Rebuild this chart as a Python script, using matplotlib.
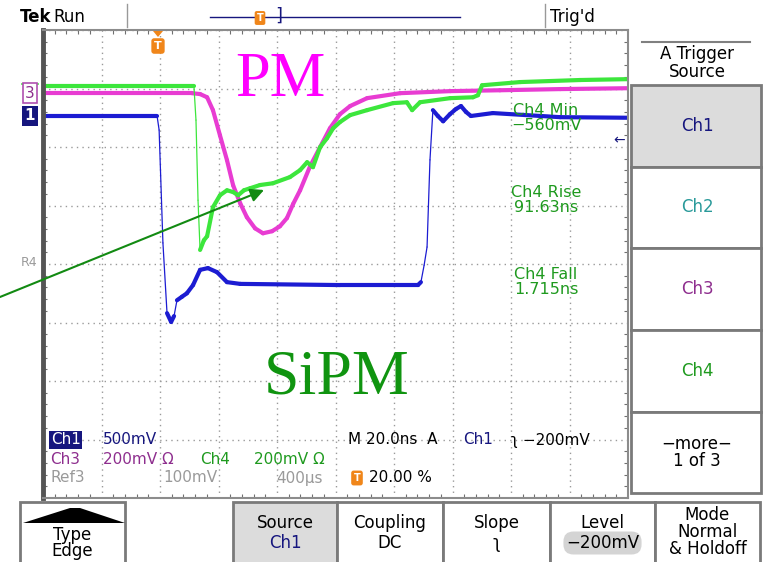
import numpy as np
import matplotlib.pyplot as plt
from matplotlib.collections import LineCollection
from matplotlib.patches import Rectangle, Polygon

W, H = 767, 562

# time base: 20 ns/div, trigger at 20 % -> screen spans -40 .. 160 ns
T_LEFT, T_RIGHT = -40, 160
NS_PER_DIV = 20

# Ch1 (blue), 500 mV/div
CH1_SCALE, CH1_POS = 500, 2.53
ch1_t = [-40, -1.0, -0.3, 1.0, 2.4, 3.8, 4.8, 5.8, 7.5, 9.2, 11.3, 13.7, 16.4,
         19.5, 22.9, 27.4, 61.5, 88.2, 89.2, 90.3, 91.3, 92.3, 93.3, 95.0, 96.8,
         99.1, 101.2, 102.9, 104.6, 106.3, 113.8, 136.8, 160]
ch1_mv = [0, 0, -120, -1085, -1685, -1760, -1710, -1575, -1545, -1515, -1445,
          -1315, -1300, -1335, -1420, -1435, -1445, -1445, -1420, -1275, -1120,
          -375, 50, 0, -45, 15, 60, 85, 35, 0, 25, -10, -15]

# Ch3 (magenta, PM), 200 mV/div
CH3_SCALE, CH3_POS = 200, 2.92
ch3_t = [-40, 10.9, 13.7, 16.1, 18.1, 20.5, 22.9, 25.0, 27.4, 29.7, 32.5, 35.2,
         38.3, 41.0, 43.4, 45.5, 47.9, 51.3, 54.7, 58.1, 61.5, 65.0, 70.8, 82.1,
         99.2, 116.2, 136.8, 160]
ch3_mv = [0, 0, -3, -14, -58, -144, -229, -315, -376, -424, -462, -479, -472,
          -455, -427, -379, -332, -250, -185, -120, -72, -44, -17, 0, 7, 10, 14, 17]

# Ch4 (green, SiPM), 200 mV/div
CH4_SCALE, CH4_POS = 200, 3.04
ch4_t = [-40, 11.6, 12.3, 13.0, 13.7, 15.0, 16.1, 18.1, 20.5, 22.9, 25.0, 26.7,
         28.7, 30.8, 34.2, 38.6, 44.4, 47.9, 50.3, 52.3, 54.7, 57.1, 59.2, 61.5,
         65.0, 70.8, 79.7, 84.4, 86.2, 88.9, 99.2, 107.0, 108.7, 110.1, 123.1,
         143.6, 160]
ch4_mv = [0, 0, -116, -390, -560, -527, -513, -414, -373, -356, -362, -373, -356,
          -349, -338, -332, -311, -287, -260, -277, -209, -178, -144, -123, -99,
          -82, -58, -55, -82, -55, -41, -38, -31, 3, 14, 21, 24]

BLUE = '#1c1cd2'
MAGENTA = '#e83cd2'
GREEN = '#3ce63c'
DKGREEN = '#1f9a1f'
NAVY = '#16167e'
PURPLE = '#8e2e8e'
ORANGE = '#f0861a'

plt.rcParams['font.family'] = ['DejaVu Sans']

fig = plt.figure(figsize=(W / 100, H / 100), dpi=100)
fig.patch.set_facecolor('white')

# ---- scope screen -------------------------------------------------------
ax = fig.add_axes([43 / W, 1 - 498 / H, 585 / W, 468 / H], zorder=2)
ax.set_xlim(T_LEFT, T_RIGHT)
ax.set_ylim(-4, 4)
ax.set_xticks(np.arange(T_LEFT, T_RIGHT + 1, NS_PER_DIV))
ax.set_yticks(np.arange(-4, 5, 1))
ax.set_xticks(np.arange(T_LEFT, T_RIGHT + 0.1, NS_PER_DIV / 5), minor=True)
ax.set_yticks(np.arange(-4, 4.01, 0.2), minor=True)
ax.tick_params(which='both', direction='in', top=True, right=True,
               labelbottom=False, labelleft=False, color='#707070')
ax.tick_params(which='major', length=0)
ax.tick_params(which='minor', length=3, width=0.8)
ax.grid(which='major', color='#9a9a9a', linestyle=(0, (1, 3)), linewidth=1)
for side in ['top', 'right', 'bottom']:
    ax.spines[side].set_color('#8c8c8c')
    ax.spines[side].set_linewidth(1.5)
ax.spines['left'].set_color('#555555')
ax.spines['left'].set_linewidth(3.5)

px_per_div = 468 / 8


def draw_trace(t, mv, scale, pos, color):
    # fast edges are drawn thin, the noisy slow parts thick, like on the scope
    t = np.asarray(t, float)
    v = np.asarray(mv, float) / scale + pos
    pts = np.column_stack([t, v])
    segs = np.stack([pts[:-1], pts[1:]], axis=1)
    dx = np.abs(np.diff(t)) * px_per_div / NS_PER_DIV
    dy = np.abs(np.diff(v)) * px_per_div
    widths = np.where(dy > 5 * dx, 0.9, 3.0)
    ax.add_collection(LineCollection(segs, colors=color, linewidths=widths,
                                     capstyle='round', joinstyle='round'))


draw_trace(ch1_t, ch1_mv, CH1_SCALE, CH1_POS, BLUE)
draw_trace(ch3_t, ch3_mv, CH3_SCALE, CH3_POS, MAGENTA)
draw_trace(ch4_t, ch4_mv, CH4_SCALE, CH4_POS, GREEN)

# ---- overlay in pixel coordinates for the instrument chrome ---------------
ui = fig.add_axes([0, 0, 1, 1], zorder=3)
ui.set_xlim(0, W)
ui.set_ylim(H, 0)
ui.axis('off')
ui.patch.set_alpha(0)

# header
ui.text(20, 17, 'Tek', fontsize=12, fontweight='bold', va='center', ha='left')
ui.text(53, 17, 'Run', fontsize=12, va='center', ha='left')
ui.plot([127, 127], [4, 27], color='#999999', lw=1)
ui.plot([545, 545], [4, 27], color='#999999', lw=1)
ui.text(550, 17, "Trig'd", fontsize=12, va='center', ha='left')
ui.plot([210, 460], [17, 17], color=NAVY, lw=1)
ui.text(279, 16, ']', fontsize=13, va='center', ha='center', color=NAVY)
ui.text(260, 18, 'T', fontsize=7, fontweight='bold', color='white', ha='center',
        va='center', bbox=dict(boxstyle='round,pad=0.2', fc=ORANGE, ec='none'))

# trigger position marker on screen
ui.add_patch(Polygon([[153, 31], [163, 31], [158, 37]], closed=True, fc=ORANGE, ec='none'))
ui.text(158, 46, 'T', fontsize=8, fontweight='bold', color='white', ha='center',
        va='center', bbox=dict(boxstyle='round,pad=0.25', fc=ORANGE, ec='none'))

# channel ground markers
ui.plot([22, 38], [84, 84], color=GREEN, lw=1.2)
ui.text(30, 93, '3', fontsize=11, color=PURPLE, ha='center', va='center',
        bbox=dict(boxstyle='square,pad=0.15', fc='white', ec='#b050b0', lw=1.2))
ui.text(30, 116, '1', fontsize=11, fontweight='bold', color='white', ha='center',
        va='center', bbox=dict(boxstyle='square,pad=0.18', fc=NAVY, ec='none'))
ui.text(29, 262, 'R4', fontsize=9, color='#9a9a9a', ha='center', va='center')
ui.text(619, 140, '\u2190', fontsize=10, color=NAVY, ha='center', va='center')

# measurements
for y, txt in [(118, 'Ch4 Min\n\u2212560mV'), (200, 'Ch4 Rise\n91.63ns'),
               (282, 'Ch4 Fall\n1.715ns')]:
    ui.text(546, y, txt, fontsize=11.5, color=DKGREEN, ha='center', va='center',
            linespacing=0.95)

# big labels and arrow
ui.text(280, 96, 'PM', fontsize=45, color='#ff00ff', family='Liberation Serif',
        ha='center', va='baseline')
ui.text(337, 393, 'SiPM', fontsize=46, color='#109410', family='Liberation Serif',
        ha='center', va='baseline')
ui.annotate('', xy=(264, 190), xytext=(0, 297),
            arrowprops=dict(arrowstyle='-|>', color='#128a12', lw=1.5,
                            mutation_scale=20, shrinkA=0, shrinkB=0))

# readouts inside the screen
rs = 11
ui.text(51, 440, 'Ch1', fontsize=rs, color='white', va='center',
        bbox=dict(boxstyle='square,pad=0.1', fc=NAVY, ec='none'))
ui.text(103, 440, '500mV', fontsize=rs, color=NAVY, va='center')
ui.text(50, 460, 'Ch3', fontsize=rs, color=PURPLE, va='center')
ui.text(103, 460, '200mV \u03a9', fontsize=rs, color=PURPLE, va='center')
ui.text(200, 460, 'Ch4', fontsize=rs, color=DKGREEN, va='center')
ui.text(254, 460, '200mV \u03a9', fontsize=rs, color=DKGREEN, va='center')
ui.text(50, 478, 'Ref3', fontsize=rs, color='#9a9a9a', va='center')
ui.text(163, 478, '100mV', fontsize=rs, color='#9a9a9a', va='center')
ui.text(276, 478, '400\u00b5s', fontsize=rs, color='#9a9a9a', va='center')
ui.text(348, 440, 'M 20.0ns  A', fontsize=rs, color='black', va='center')
ui.text(463, 440, 'Ch1', fontsize=rs, color=NAVY, va='center')
ui.text(511, 440, '\u0285 \u2212200mV', fontsize=rs, color='black', va='center')
ui.text(357, 478, 'T', fontsize=7, fontweight='bold', color='white', ha='center',
        va='center', bbox=dict(boxstyle='round,pad=0.25', fc=ORANGE, ec='none'))
ui.text(369, 478, '20.00 %', fontsize=rs, color='black', va='center')

# right-hand menu
ui.plot([642, 750], [42, 42], color='#808080', lw=1.5)
ui.text(697, 63, 'A Trigger\nSource', fontsize=12, ha='center', va='center',
        linespacing=0.95)
side_menu = [(85, 'Ch1', NAVY, '#dcdcdc'), (167, 'Ch2', '#2a9a9a', 'white'),
             (248, 'Ch3', PURPLE, 'white'), (330, 'Ch4', DKGREEN, 'white'),
             (412, '\u2212more\u2212\n1 of 3', 'black', 'white')]
for i, (top, label, col, face) in enumerate(side_menu):
    bottom = side_menu[i + 1][0] if i + 1 < len(side_menu) else 493
    ui.add_patch(Rectangle((631, top), 130, bottom - top, fc=face, ec='#7a7a7a', lw=2))
    ui.text(697, (top + bottom) / 2, label, fontsize=12, color=col, ha='center',
            va='center', linespacing=0.95)

# bottom menu
bottom_menu = [(20, 125, 'Type\nEdge', 'white'), (233, 337, 'Source\nCh1', '#dcdcdc'),
               (337, 443, 'Coupling\nDC', 'white'), (443, 550, 'Slope\n\u0285', 'white'),
               (550, 655, 'Level\n\u2212200mV', 'white'),
               (655, 760, 'Mode\nNormal\n& Holdoff', 'white')]
for x0, x1, label, face in bottom_menu:
    ui.add_patch(Rectangle((x0, 502), x1 - x0, 70, fc=face, ec='#7a7a7a', lw=2))
for x0, x1, label, face in bottom_menu:
    xc = (x0 + x1) / 2
    if label.startswith('Type'):
        ui.add_patch(Polygon([[23, 523], [70, 508], [80, 508], [125, 523]],
                             closed=True, fc='black', ec='none'))
        ui.text(xc, 543, label, fontsize=12, ha='center', va='center', linespacing=0.9)
    elif label.startswith('Mode'):
        ui.text(xc, 532, label, fontsize=12, ha='center', va='center', linespacing=0.9)
    elif label.startswith('Level'):
        ui.text(xc, 523, 'Level', fontsize=12, ha='center', va='center')
        ui.text(xc, 543, '\u2212200mV', fontsize=12, ha='center', va='center',
                bbox=dict(boxstyle='round,pad=0.15,rounding_size=0.6', fc='#d4d4d4', ec='none'))
    else:
        first, second = label.split('\n')
        ui.text(xc, 523, first, fontsize=12, ha='center', va='center')
        ui.text(xc, 543, second, fontsize=12, ha='center', va='center',
                color=NAVY if second == 'Ch1' else 'black')

fig.savefig('out.png', dpi=100)
